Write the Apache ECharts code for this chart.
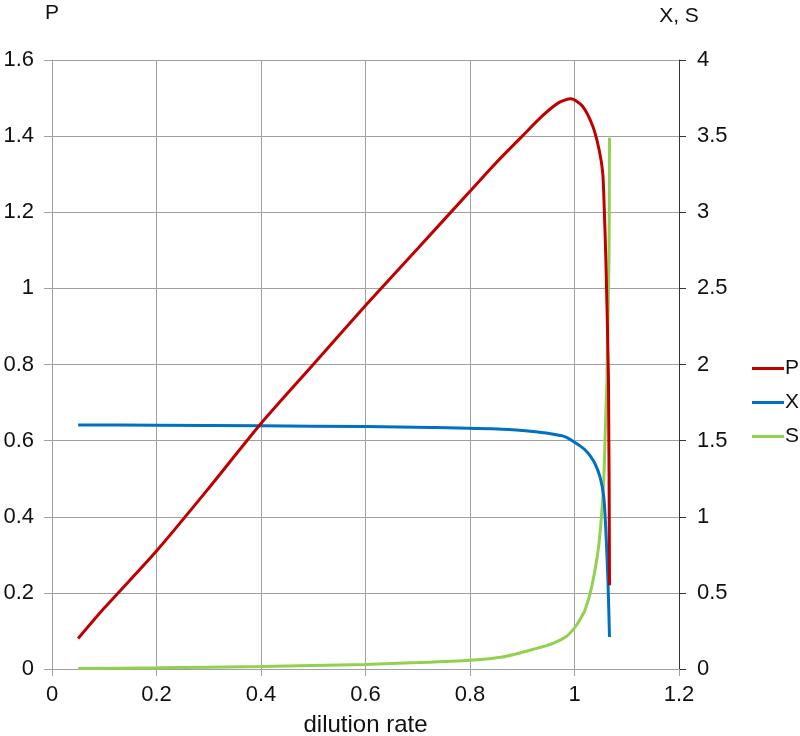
<!DOCTYPE html>
<html>
<head>
<meta charset="utf-8">
<script src="https://cdn.jsdelivr.net/npm/echarts@6/dist/echarts.min.js"></script>
<style>html,body{margin:0;padding:0;background:#fff}#c{width:800px;height:736px}</style>
</head>
<body>
<div id="c"></div>
<script>
// dilution rate (x) and series values
const dP = [0.05, 0.1, 0.2, 0.3, 0.4, 0.5, 0.6, 0.7, 0.8, 0.85, 0.9, 0.94, 0.97, 0.993, 1.015, 1.035, 1.047, 1.054, 1.057, 1.06, 1.065, 1.067];
const P  = [0.08, 0.16, 0.31, 0.475, 0.645, 0.80, 0.955, 1.105, 1.255, 1.33, 1.40, 1.455, 1.488, 1.498, 1.479, 1.426, 1.365, 1.304, 1.207, 1.076, 0.76, 0.22];

const dX = [0.05, 0.2, 0.4, 0.6, 0.727, 0.862, 0.926, 0.95, 0.977, 0.99, 1.0, 1.01, 1.02, 1.03, 1.039, 1.049, 1.056, 1.06, 1.064, 1.067];
const X  = [1.603, 1.601, 1.597, 1.592, 1.586, 1.575, 1.559, 1.548, 1.531, 1.512, 1.49, 1.467, 1.44, 1.40, 1.35, 1.26, 1.13, 0.91, 0.58, 0.21];

const dS = [0.05, 0.2, 0.4, 0.6, 0.7, 0.8, 0.862, 0.926, 0.96, 0.985, 1.0, 1.01, 1.02, 1.033, 1.046, 1.052, 1.056, 1.059, 1.062, 1.064, 1.066, 1.067];
const S  = [0.003, 0.008, 0.016, 0.03, 0.042, 0.058, 0.079, 0.134, 0.17, 0.215, 0.27, 0.322, 0.386, 0.54, 0.80, 1.02, 1.24, 1.57, 1.90, 2.3, 2.69, 3.49];

const seriesNames = ['P', 'X', 'S'];
const xTitle = 'dilution rate';
const leftTitle = 'P';
const rightTitle = 'X, S';

const zip = (a, b) => a.map((v, i) => [v, b[i]]);
const font = 'Liberation Sans, Arial, sans-serif';
const gridColor = '#a0a0a0';

const chart = echarts.init(document.getElementById('c'), null, {renderer: 'canvas'});
chart.setOption({
  animation: false,
  backgroundColor: '#fff',
  textStyle: {fontFamily: font},
  grid: {left: 52, right: 121, top: 60, bottom: 67, containLabel: false, outerBoundsMode: 'none'},
  legend: {
    orient: 'vertical', left: 747, top: 353,
    icon: 'rect', itemWidth: 32, itemHeight: 3, itemGap: 13,
    textStyle: {fontFamily: font, fontSize: 21, color: '#111', padding: [0, 0, 0, -4]},
    data: seriesNames
  },
  xAxis: {
    type: 'value', min: 0, max: 1.2, interval: 0.2,
    name: xTitle, nameLocation: 'middle', nameGap: 44,
    nameTextStyle: {fontFamily: font, fontSize: 24, color: '#111'},
    axisLine: {show: true, lineStyle: {color: gridColor, width: 1}},
    axisTick: {show: true, inside: false, length: 7, lineStyle: {color: gridColor}},
    axisLabel: {fontFamily: font, fontSize: 22, color: '#111', margin: 15},
    splitLine: {show: true, lineStyle: {color: gridColor, width: 1}}
  },
  yAxis: [{
    type: 'value', min: 0, max: 1.6, interval: 0.2, position: 'left',
    name: leftTitle, nameLocation: 'end', nameGap: 36,
    nameTextStyle: {fontFamily: font, fontSize: 21, color: '#111', align: 'center'},
    axisLine: {show: true, lineStyle: {color: gridColor, width: 1}},
    axisTick: {show: true, inside: false, length: 8, lineStyle: {color: gridColor}},
    axisLabel: {fontFamily: font, fontSize: 22, color: '#111', margin: 18},
    splitLine: {show: true, lineStyle: {color: gridColor, width: 1}}
  }, {
    type: 'value', min: 0, max: 4, interval: 0.5, position: 'right',
    name: rightTitle, nameLocation: 'end', nameGap: 33,
    nameTextStyle: {fontFamily: font, fontSize: 21, color: '#111', align: 'center'},
    axisLine: {show: true, lineStyle: {color: '#333', width: 1}},
    axisTick: {show: true, inside: false, length: 7, lineStyle: {color: '#333'}},
    axisLabel: {fontFamily: font, fontSize: 22, color: '#111', margin: 18},
    splitLine: {show: false}
  }],
  series: [{
    name: 'P', type: 'line', yAxisIndex: 0, data: zip(dP, P),
    showSymbol: false, smooth: 0.25,
    lineStyle: {color: '#C00000', width: 3}, itemStyle: {color: '#C00000'}, z: 3
  }, {
    name: 'X', type: 'line', yAxisIndex: 1, data: zip(dX, X),
    showSymbol: false, smooth: 0.25,
    lineStyle: {color: '#0070C0', width: 3}, itemStyle: {color: '#0070C0'}, z: 2
  }, {
    name: 'S', type: 'line', yAxisIndex: 1, data: zip(dS, S),
    showSymbol: false, smooth: 0.25,
    lineStyle: {color: '#92D050', width: 3}, itemStyle: {color: '#92D050'}, z: 1
  }]
});
</script>
</body>
</html>
